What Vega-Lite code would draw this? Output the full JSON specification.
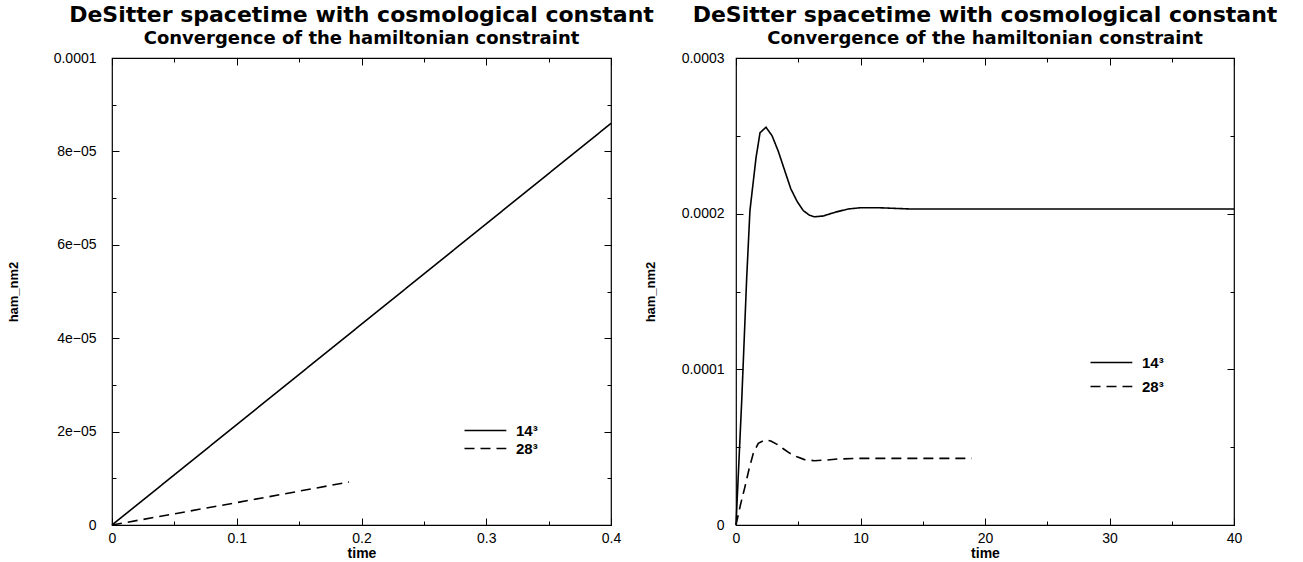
{
  "$schema": "https://vega.github.io/schema/vega-lite/v6.json",
  "background": "white",
  "padding": {"left": 6, "top": 3, "right": 0, "bottom": 0},
  "bounds": "flush",
  "spacing": 125,
  "datasets": {
    "left": [
      {"res": "14³", "time": 0, "ham": 0},
      {"res": "14³", "time": 0.1, "ham": 0.0000215},
      {"res": "14³", "time": 0.2, "ham": 0.000043},
      {"res": "14³", "time": 0.3, "ham": 0.0000645},
      {"res": "14³", "time": 0.4, "ham": 0.000086},
      {"res": "28³", "time": 0, "ham": 0},
      {"res": "28³", "time": 0.1, "ham": 0.0000048},
      {"res": "28³", "time": 0.19, "ham": 0.0000092}
    ],
    "right": [
      {"res": "14³", "time": 0, "ham": 0},
      {"res": "14³", "time": 0.46, "ham": 0.00008},
      {"res": "14³", "time": 0.86, "ham": 0.000159},
      {"res": "14³", "time": 1.12, "ham": 0.000202},
      {"res": "14³", "time": 1.61, "ham": 0.000236},
      {"res": "14³", "time": 1.93, "ham": 0.000252},
      {"res": "14³", "time": 2.41, "ham": 0.0002555},
      {"res": "14³", "time": 2.9, "ham": 0.00025},
      {"res": "14³", "time": 3.4, "ham": 0.00024},
      {"res": "14³", "time": 3.9, "ham": 0.000228},
      {"res": "14³", "time": 4.4, "ham": 0.000216},
      {"res": "14³", "time": 4.9, "ham": 0.000208},
      {"res": "14³", "time": 5.4, "ham": 0.000202},
      {"res": "14³", "time": 5.9, "ham": 0.000199},
      {"res": "14³", "time": 6.3, "ham": 0.000198},
      {"res": "14³", "time": 7.0, "ham": 0.0001985},
      {"res": "14³", "time": 8.0, "ham": 0.000201},
      {"res": "14³", "time": 9.0, "ham": 0.000203},
      {"res": "14³", "time": 10.0, "ham": 0.0002038},
      {"res": "14³", "time": 11.5, "ham": 0.0002038},
      {"res": "14³", "time": 14.0, "ham": 0.000203},
      {"res": "14³", "time": 20, "ham": 0.000203},
      {"res": "14³", "time": 30, "ham": 0.000203},
      {"res": "14³", "time": 40, "ham": 0.000203},
      {"res": "28³", "time": 0, "ham": 0},
      {"res": "28³", "time": 0.36, "ham": 0.000013},
      {"res": "28³", "time": 0.72, "ham": 0.0000246},
      {"res": "28³", "time": 1.05, "ham": 0.000036},
      {"res": "28³", "time": 1.39, "ham": 0.000046},
      {"res": "28³", "time": 1.79, "ham": 0.0000525},
      {"res": "28³", "time": 2.33, "ham": 0.0000546},
      {"res": "28³", "time": 2.8, "ham": 0.000054},
      {"res": "28³", "time": 3.3, "ham": 0.0000518},
      {"res": "28³", "time": 3.8, "ham": 0.000049},
      {"res": "28³", "time": 4.3, "ham": 0.0000462},
      {"res": "28³", "time": 4.9, "ham": 0.0000438},
      {"res": "28³", "time": 5.5, "ham": 0.000042},
      {"res": "28³", "time": 6.3, "ham": 0.0000413},
      {"res": "28³", "time": 7.2, "ham": 0.0000417},
      {"res": "28³", "time": 8.2, "ham": 0.0000424},
      {"res": "28³", "time": 9.8, "ham": 0.0000428},
      {"res": "28³", "time": 12.5, "ham": 0.0000428},
      {"res": "28³", "time": 18.93, "ham": 0.0000428}
    ]
  },
  "hconcat": [
    {
      "width": 499,
      "height": 467,
      "data": {"name": "left"},
      "title": {
        "text": "DeSitter spacetime with cosmological constant",
        "subtitle": "Convergence of the hamiltonian constraint",
        "anchor": "middle",
        "frame": "group"
      },
      "layer": [
        {
          "mark": {"type": "line", "color": "black", "strokeWidth": 1.6},
          "encoding": {
            "x": {"field": "time", "type": "quantitative", "scale": {"domain": [0, 0.4], "nice": false, "zero": false},
              "axis": {"orient": "bottom", "values": [0, 0.1, 0.2, 0.3, 0.4], "tickSize": -7, "labelPadding": 13,
                "labelExpr": "datum.value == 0 ? '0' : format(datum.value, '.1f')", "title": "time", "titlePadding": 1, "labelFlush": false}},
            "y": {"field": "ham", "type": "quantitative", "scale": {"domain": [0, 0.0001], "nice": false, "zero": false},
              "axis": {"orient": "left", "values": [0, 0.00002, 0.00004, 0.00006, 0.00008, 0.0001], "tickSize": -7, "labelPadding": 23,
                "labelExpr": "datum.value == 0 ? '0' : datum.value > 0.00009 ? '0.0001' : round(datum.value * 100000) + 'e−05'",
                "title": "ham_nm2", "titlePadding": 33, "titleFontSize": 13, "labelFlush": false}},
            "strokeDash": {"field": "res", "type": "nominal",
              "scale": {"domain": ["14³", "28³"], "range": [[1, 0], [10, 6]]},
              "legend": {"orient": "none", "legendX": 345, "legendY": 365, "title": null, "padding": 0,
                "symbolType": "M0,0H10", "symbolSize": 70, "symbolStrokeWidth": 1.5, "symbolStrokeColor": "black",
                "labelFont": "Liberation Sans", "labelFontWeight": "bold", "labelFontSize": 15, "labelColor": "black",
                "labelOffset": 44, "rowPadding": 2}}
          }
        },
        {
          "mark": {"type": "line", "opacity": 0},
          "encoding": {
            "detail": {"field": "res"},
            "x": {"field": "time", "type": "quantitative", "axis": {"orient": "top", "values": [0, 0.1, 0.2, 0.3, 0.4], "tickSize": -7, "labels": false, "title": null}},
            "y": {"field": "ham", "type": "quantitative", "axis": {"orient": "right", "values": [0, 0.00002, 0.00004, 0.00006, 0.00008, 0.0001], "tickSize": -7, "labels": false, "title": null}}
          }
        },
        {
          "mark": {"type": "line", "opacity": 0},
          "encoding": {
            "detail": {"field": "res"},
            "x": {"field": "time", "type": "quantitative", "axis": {"orient": "bottom", "values": [0.05, 0.15, 0.25, 0.35], "tickSize": -4, "labels": false, "title": null}},
            "y": {"field": "ham", "type": "quantitative", "axis": {"orient": "left", "values": [0.00001, 0.00003, 0.00005, 0.00007, 0.00009], "tickSize": -4, "labels": false, "title": null}}
          }
        },
        {
          "mark": {"type": "line", "opacity": 0},
          "encoding": {
            "detail": {"field": "res"},
            "x": {"field": "time", "type": "quantitative", "axis": {"orient": "top", "values": [0.05, 0.15, 0.25, 0.35], "tickSize": -4, "labels": false, "title": null}},
            "y": {"field": "ham", "type": "quantitative", "axis": {"orient": "right", "values": [0.00001, 0.00003, 0.00005, 0.00007, 0.00009], "tickSize": -4, "labels": false, "title": null}}
          }
        }
      ],
      "resolve": {"axis": {"x": "independent", "y": "independent"}}
    },
    {
      "width": 498,
      "height": 467,
      "data": {"name": "right"},
      "title": {
        "text": "DeSitter spacetime with cosmological constant",
        "subtitle": "Convergence of the hamiltonian constraint",
        "anchor": "middle",
        "frame": "group"
      },
      "layer": [
        {
          "mark": {"type": "line", "color": "black", "strokeWidth": 1.6},
          "encoding": {
            "x": {"field": "time", "type": "quantitative", "scale": {"domain": [0, 40], "nice": false, "zero": false},
              "axis": {"orient": "bottom", "values": [0, 10, 20, 30, 40], "tickSize": -7, "labelPadding": 13,
                "format": "d", "title": "time", "titlePadding": 1, "labelFlush": false}},
            "y": {"field": "ham", "type": "quantitative", "scale": {"domain": [0, 0.0003], "nice": false, "zero": false},
              "axis": {"orient": "left", "values": [0, 0.0001, 0.0002, 0.0003], "tickSize": -7, "labelPadding": 19,
                "labelExpr": "datum.value == 0 ? '0' : format(datum.value, '.4f')",
                "title": "ham_nm2", "titlePadding": 24, "titleFontSize": 13, "labelFlush": false}},
            "strokeDash": {"field": "res", "type": "nominal",
              "scale": {"domain": ["14³", "28³"], "range": [[1, 0], [10, 6]]},
              "legend": {"orient": "none", "legendX": 347, "legendY": 297, "title": null, "padding": 0,
                "symbolType": "M0,0H10", "symbolSize": 70, "symbolStrokeWidth": 1.5, "symbolStrokeColor": "black",
                "labelFont": "Liberation Sans", "labelFontWeight": "bold", "labelFontSize": 15, "labelColor": "black",
                "labelOffset": 44, "rowPadding": 8}}
          }
        },
        {
          "mark": {"type": "line", "opacity": 0},
          "encoding": {
            "detail": {"field": "res"},
            "x": {"field": "time", "type": "quantitative", "axis": {"orient": "top", "values": [0, 10, 20, 30, 40], "tickSize": -7, "labels": false, "title": null}},
            "y": {"field": "ham", "type": "quantitative", "axis": {"orient": "right", "values": [0, 0.0001, 0.0002, 0.0003], "tickSize": -7, "labels": false, "title": null}}
          }
        },
        {
          "mark": {"type": "line", "opacity": 0},
          "encoding": {
            "detail": {"field": "res"},
            "x": {"field": "time", "type": "quantitative", "axis": {"orient": "bottom", "values": [5, 15, 25, 35], "tickSize": -4, "labels": false, "title": null}},
            "y": {"field": "ham", "type": "quantitative", "axis": {"orient": "left", "values": [0.00005, 0.00015, 0.00025], "tickSize": -4, "labels": false, "title": null}}
          }
        },
        {
          "mark": {"type": "line", "opacity": 0},
          "encoding": {
            "detail": {"field": "res"},
            "x": {"field": "time", "type": "quantitative", "axis": {"orient": "top", "values": [5, 15, 25, 35], "tickSize": -4, "labels": false, "title": null}},
            "y": {"field": "ham", "type": "quantitative", "axis": {"orient": "right", "values": [0.00005, 0.00015, 0.00025], "tickSize": -4, "labels": false, "title": null}}
          }
        }
      ],
      "resolve": {"axis": {"x": "independent", "y": "independent"}}
    }
  ],
  "resolve": {"scale": {"x": "independent", "y": "independent", "strokeDash": "independent"}, "legend": {"strokeDash": "independent"}},
  "config": {
    "view": {"stroke": "black", "strokeWidth": 1.2},
    "axis": {"domain": false, "grid": false, "tickColor": "black", "tickWidth": 1, "labelColor": "black",
      "labelFont": "Liberation Sans", "labelFontSize": 14, "titleFont": "Liberation Sans", "titleFontSize": 14,
      "titleFontWeight": "bold", "titleColor": "black"},
    "title": {"font": "DejaVu Sans", "fontSize": 22, "fontWeight": "bold", "color": "black",
      "subtitleFont": "DejaVu Sans", "subtitleFontSize": 18, "subtitleFontWeight": "bold", "subtitleColor": "black",
      "subtitlePadding": 3, "offset": 2}
  }
}
